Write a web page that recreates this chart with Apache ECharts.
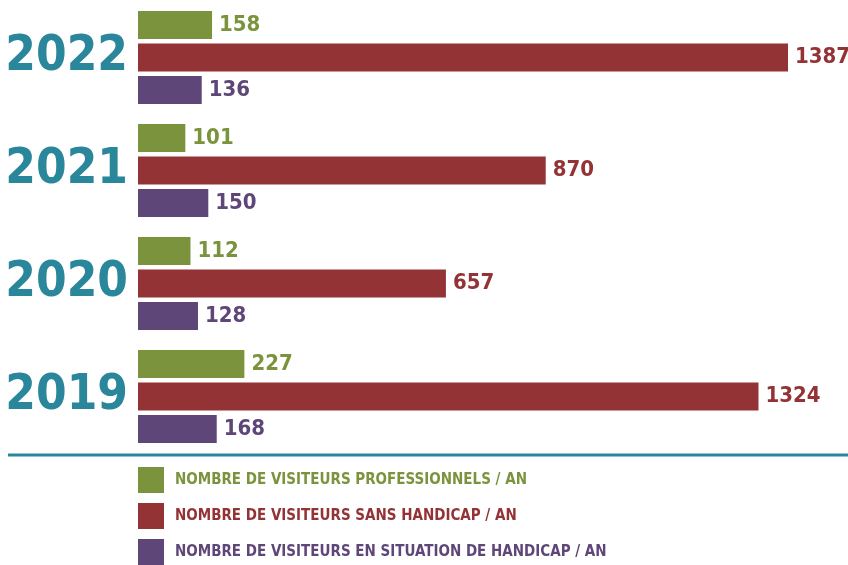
<!DOCTYPE html>
<html>
<head>
<meta charset="utf-8">
<script src="https://cdn.jsdelivr.net/npm/echarts@6/dist/echarts.min.js"></script>
<style>
  html, body { margin: 0; padding: 0; background: #fff; }
  #chart { width: 848px; height: 565px; }
</style>
</head>
<body>
<div id="chart"></div>
<script>
// années (du haut vers le bas)
const years = ['2022', '2021', '2020', '2019']
const seriesNames = [
  'NOMBRE DE VISITEURS PROFESSIONNELS / AN',
  'NOMBRE DE VISITEURS SANS HANDICAP / AN',
  'NOMBRE DE VISITEURS EN SITUATION DE HANDICAP / AN'
]
const professionnels = [158, 101, 112, 227]
const sansHandicap = [1387, 870, 657, 1324]
const handicap = [136, 150, 128, 168]

const colors = ['#7a933c', '#933335', '#5f4679']
const teal = '#2a869a'
const font = '"DejaVu Sans Condensed", "Liberation Sans Narrow", sans-serif'

const chart = echarts.init(document.getElementById('chart'))

const makeSeries = (name, data, color) => ({
  name: name,
  type: 'bar',
  data: data,
  barWidth: 28,
  barGap: '16%',
  itemStyle: { color: color },
  label: {
    show: true,
    position: 'right',
    distance: 7,
    color: color,
    fontFamily: font,
    fontWeight: 'bold',
    fontSize: 22
  },
  emphasis: { disabled: true }
})

chart.setOption({
  animation: false,
  grid: { left: 138, right: 0, top: 1, height: 452, outerBoundsMode: 'none', containLabel: false },
  xAxis: {
    type: 'value',
    min: 0,
    max: 1515,
    show: false
  },
  yAxis: {
    type: 'category',
    data: years,
    inverse: true,
    axisLine: { show: false },
    axisTick: { show: false },
    axisLabel: {
      color: teal,
      fontFamily: font,
      fontWeight: 'bold',
      fontSize: 49,
      margin: 10,
      padding: [4, 0, 0, 0]
    }
  },
  legend: {
    orient: 'vertical',
    left: 138,
    top: 467,
    height: 120,
    padding: 0,
    itemWidth: 26,
    itemHeight: 26,
    itemGap: 10,
    icon: 'rect',
    selectedMode: false,
    textStyle: { fontFamily: font, fontWeight: 'bold', fontSize: 15, padding: [0, 0, 0, 6] },
    data: seriesNames.map((n, i) => ({ name: n, textStyle: { color: colors[i] } }))
  },
  graphic: [
    {
      type: 'line',
      shape: { x1: 8, y1: 455, x2: 848, y2: 455 },
      style: { stroke: teal, lineWidth: 3 }
    }
  ],
  series: [
    makeSeries(seriesNames[0], professionnels, colors[0]),
    makeSeries(seriesNames[1], sansHandicap, colors[1]),
    makeSeries(seriesNames[2], handicap, colors[2])
  ]
})
</script>
</body>
</html>
